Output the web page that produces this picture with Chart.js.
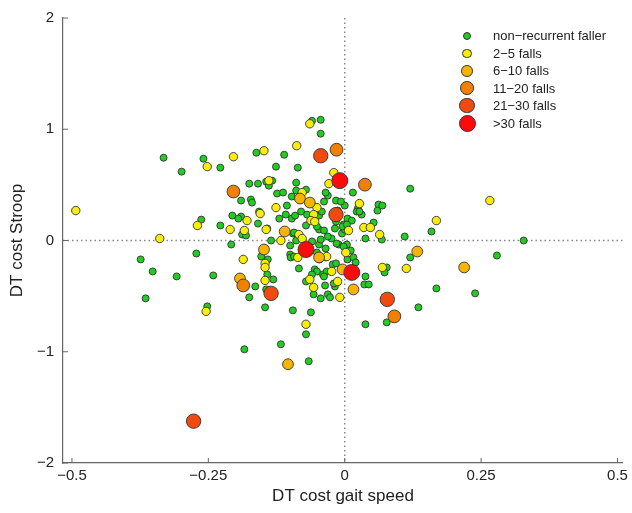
<!DOCTYPE html>
<html>
<head>
<meta charset="utf-8">
<script src="https://cdn.jsdelivr.net/npm/chart.js@4.4.1/dist/chart.umd.min.js"></script>
<style>
  body { margin: 0; background: #fff; }
  #wrap { position: relative; width: 632px; height: 513px; }
  #legend { position: absolute; left: 455px; top: 27px; font-family: "Liberation Sans", Arial, sans-serif; font-size: 13px; color: #222; }
  #legend .row { position: relative; height: 17.5px; line-height: 17.5px; padding-left: 38px; white-space: nowrap; }
  #legend .dot { position: absolute; border-radius: 50%; border: 1px solid #333; box-sizing: border-box; }
</style>
</head>
<body>
<div id="wrap">
  <canvas id="fallsChart" width="632" height="513"></canvas>
  <div id="legend"></div>
</div>
<script>
// fall groups, legend order
const groupLabels = ['non\u2212recurrent faller', '2\u22125 falls', '6\u221210 falls', '11\u221220 falls', '21\u221230 falls', '>30 falls'];
const groupColors = ['#22cc22', '#f7ec0a', '#f5b400', '#f08000', '#f04a10', '#ff0a0a'];
const groupRadius = [3.5, 4.2, 5.4, 6.4, 7.2, 8];

const xTicks = [-0.5, -0.25, 0, 0.25, 0.5];
const yTicks = [-2, -1, 0, 1, 2];

// [DT cost gait speed, DT cost Stroop]
const nonRecurrent = [
  [-0.332, 0.744], [-0.299, 0.619], [-0.374, -0.170], [-0.352, -0.278], [-0.308, -0.323], [-0.365, -0.520],
  [-0.272, -0.117], [-0.259, 0.735], [-0.228, 0.655], [-0.263, 0.188], [-0.228, 0.135], [-0.208, -0.036],
  [-0.241, -0.314], [-0.206, 0.224], [-0.190, 0.215], [-0.190, 0.359], [-0.172, 0.368], [-0.170, 0.341],
  [-0.175, 0.511], [-0.159, 0.511], [-0.162, 0.789], [-0.126, 0.664], [-0.111, 0.771], [-0.086, 0.655],
  [-0.089, 0.520], [-0.124, 0.422], [-0.113, 0.431], [-0.106, 0.314], [-0.157, 0.260], [-0.120, 0.197],
  [-0.097, 0.197], [-0.108, 0.233], [-0.195, 0.197], [-0.159, 0.152], [-0.188, 0.054], [-0.181, 0.045],
  [-0.135, 0.000], [-0.100, -0.045], [-0.095, 0.063], [-0.100, -0.126], [-0.099, -0.152], [-0.084, -0.251],
  [-0.055, -0.260], [-0.044, 1.085], [-0.060, 1.076], [-0.044, 0.960], [-0.097, 0.395], [-0.089, 0.449],
  [-0.071, 0.457], [-0.038, 0.350], [-0.047, 0.224], [-0.031, 0.404], [-0.016, 0.359], [-0.144, 0.529],
  [-0.133, 0.538], [-0.080, 0.260], [-0.069, 0.233], [-0.047, 0.099], [-0.060, -0.009], [-0.047, -0.036],
  [-0.035, -0.072], [-0.024, 0.018], [-0.046, -0.170], [-0.040, -0.305], [-0.071, -0.368], [-0.051, -0.278],
  [-0.022, -0.215], [-0.018, -0.413], [-0.031, -0.484], [-0.057, -0.484], [-0.044, -0.520], [-0.153, -0.144],
  [-0.142, -0.305], [-0.144, -0.440], [-0.164, -0.413], [-0.175, -0.511], [-0.131, -0.350], [-0.139, 0.493],
  [-0.035, 0.431], [-0.042, 0.260], [-0.091, 0.224], [-0.142, 0.108], [-0.051, 0.126], [-0.038, 0.090],
  [-0.071, 0.135], [-0.093, 0.072], [-0.031, 0.036], [-0.044, 0.009], [-0.018, 0.108], [-0.005, 0.063],
  [0.000, 0.099], [-0.016, 0.170], [-0.089, 0.000], [0.015, 0.431], [0.120, 0.466], [0.062, 0.323],
  [0.069, 0.314], [0.060, 0.269], [0.024, 0.287], [0.031, 0.233], [0.022, 0.260], [0.000, 0.314],
  [-0.007, 0.350], [0.005, 0.197], [0.013, 0.179], [-0.002, 0.144], [0.053, 0.161], [0.159, 0.081],
  [0.110, 0.036], [0.068, 0.009], [0.038, 0.018], [0.328, 0.000], [0.279, -0.135], [0.120, -0.152],
  [0.077, -0.242], [0.073, -0.287], [0.038, -0.323], [0.036, -0.395], [0.044, -0.395], [0.168, -0.431],
  [0.239, -0.475], [0.135, -0.601], [0.077, -0.736], [0.038, -0.753], [-0.062, -0.646], [-0.095, -0.628],
  [-0.071, -0.843], [-0.013, 0.269], [0.027, 0.260], [-0.004, 0.126], [0.004, 0.144], [-0.011, -0.036],
  [0.004, -0.036], [0.011, -0.090], [0.005, -0.170], [0.016, -0.152], [-0.016, -0.206], [-0.033, -0.278],
  [-0.038, -0.323], [-0.020, -0.386], [-0.060, -0.305], [-0.093, -0.144], [-0.027, -0.511], [-0.036, -0.404],
  [0.020, -0.197], [-0.002, -0.054], [-0.141, -0.170], [-0.146, -0.601], [-0.117, -0.933], [-0.184, -0.978],
  [-0.066, -1.085], [-0.252, -0.592], [-0.064, -0.090], [-0.051, -0.108], [-0.015, -0.027], [-0.035, -0.152]
];
const falls2to5 = [
  [-0.493, 0.269], [-0.339, 0.018], [-0.270, 0.135], [-0.252, 0.664], [-0.204, 0.753], [-0.148, 0.807],
  [-0.064, 1.049], [-0.088, 0.852], [-0.139, 0.538], [-0.126, 0.296], [-0.155, 0.242], [-0.179, 0.179],
  [-0.210, 0.099], [-0.184, 0.090], [-0.144, 0.099], [-0.117, 0.000], [-0.186, -0.170], [-0.146, -0.206],
  [-0.146, -0.242], [-0.146, -0.359], [-0.057, -0.422], [-0.024, -0.278], [-0.020, 0.610], [-0.029, 0.511],
  [-0.051, 0.296], [-0.057, 0.233], [-0.062, 0.179], [-0.055, 0.170], [-0.078, 0.431], [-0.084, 0.054],
  [-0.078, 0.018], [-0.086, -0.152], [-0.033, -0.144], [-0.064, -0.350], [-0.013, -0.368], [-0.009, -0.511],
  [-0.071, -0.753], [0.002, -0.108], [0.027, 0.332], [0.007, 0.090], [0.035, 0.117], [0.047, 0.117],
  [0.064, 0.054], [0.168, 0.179], [0.266, 0.359], [0.069, -0.242], [0.113, -0.251], [-0.254, -0.637]
];
const falls6to10 = [
  [-0.082, 0.377], [-0.064, 0.341], [-0.110, 0.081], [-0.148, -0.081], [-0.192, -0.341], [-0.047, -0.152],
  [-0.004, -0.260], [0.133, -0.099], [0.219, -0.242], [0.016, -0.440], [-0.104, -1.112]
];
const falls11to20 = [
  [-0.015, 0.816], [0.037, 0.502], [-0.204, 0.440], [-0.186, -0.404], [0.091, -0.682]
];
const falls21to30 = [
  [-0.016, 0.233], [-0.044, 0.762], [-0.135, -0.475], [0.078, -0.529], [-0.277, -1.624]
];
const fallsOver30 = [
  [-0.009, 0.538], [0.013, -0.287], [-0.071, -0.081]
];

const groups = [nonRecurrent, falls2to5, falls6to10, falls11to20, falls21to30, fallsOver30];
const fontFamily = '"Liberation Sans", Arial, Helvetica, sans-serif';

function fmt(v) {
    return String(v).replace('-', '\u2212');
}

// dotted zero lines + inward ticks
const refLines = {
    id: 'refLines',
    beforeDatasetsDraw(chart) {
        const { ctx, chartArea, scales } = chart;
        const x0 = scales.x.getPixelForValue(0);
        const y0 = scales.y.getPixelForValue(0);
        ctx.save();
        ctx.strokeStyle = '#888';
        ctx.lineWidth = 1.5;
        ctx.setLineDash([1.5, 3]);
        ctx.beginPath();
        ctx.moveTo(x0, chartArea.top);
        ctx.lineTo(x0, chartArea.bottom);
        ctx.moveTo(chartArea.left, y0);
        ctx.lineTo(chartArea.right, y0);
        ctx.stroke();
        ctx.restore();
    },
    afterDraw(chart) {
        const { ctx, chartArea, scales } = chart;
        ctx.save();
        ctx.strokeStyle = '#666';
        ctx.lineWidth = 1;
        ctx.beginPath();
        xTicks.forEach(v => {
            const px = scales.x.getPixelForValue(v);
            ctx.moveTo(px, chartArea.bottom);
            ctx.lineTo(px, chartArea.bottom - 5);
        });
        yTicks.forEach(v => {
            const py = scales.y.getPixelForValue(v);
            ctx.moveTo(chartArea.left, py);
            ctx.lineTo(chartArea.left + 5, py);
        });
        ctx.stroke();
        ctx.restore();
    }
};

const datasets = groups.map((pts, i) => ({
    label: groupLabels[i],
    data: pts.map(p => ({ x: p[0], y: p[1] })),
    backgroundColor: groupColors[i],
    borderColor: '#333',
    borderWidth: 0.9,
    pointRadius: groupRadius[i],
    pointHoverRadius: groupRadius[i],
    order: groups.length - i
}));

new Chart(document.getElementById('fallsChart'), {
    type: 'scatter',
    data: { datasets: datasets },
    options: {
        responsive: false,
        animation: false,
        layout: { padding: { top: 16, right: 5, left: 0, bottom: 0 } },
        plugins: { legend: { display: false }, tooltip: { enabled: false } },
        scales: {
            x: {
                type: 'linear',
                min: -0.5164,
                max: 0.51,
                afterBuildTicks: s => { s.ticks = xTicks.map(v => ({ value: v })); },
                afterFit: s => { s.height = 50; },
                ticks: { callback: v => fmt(v), color: '#222', font: { family: fontFamily, size: 15 }, padding: 4, maxRotation: 0, autoSkip: false },
                grid: { display: false, drawTicks: false },
                border: { display: true, color: '#666', width: 1.2 },
                title: { display: true, text: 'DT cost gait speed', color: '#222', font: { family: fontFamily, size: 17 }, padding: { top: 0, bottom: 6 } }
            },
            y: {
                type: 'linear',
                min: -2,
                max: 2,
                afterBuildTicks: s => { s.ticks = yTicks.map(v => ({ value: v })); },
                afterFit: s => { s.width = 63; },
                ticks: { callback: v => fmt(v), color: '#222', font: { family: fontFamily, size: 15 }, padding: 9, autoSkip: false },
                grid: { display: false, drawTicks: false },
                border: { display: true, color: '#666', width: 1.2 },
                title: { display: true, text: 'DT cost Stroop', color: '#222', font: { family: fontFamily, size: 17 }, padding: { top: 7, bottom: 0 } }
            }
        }
    },
    plugins: [refLines]
});

// legend box in the upper right of the plot
const legendEl = document.getElementById('legend');
groupLabels.forEach((lab, i) => {
    const row = document.createElement('div');
    row.className = 'row';
    const d = groupRadius[i] * 2 + 1;
    const dot = document.createElement('span');
    dot.className = 'dot';
    dot.style.width = d + 'px';
    dot.style.height = d + 'px';
    dot.style.left = (12 - d / 2) + 'px';
    dot.style.top = (8.75 - d / 2) + 'px';
    dot.style.background = groupColors[i];
    row.appendChild(dot);
    row.appendChild(document.createTextNode(lab));
    legendEl.appendChild(row);
});
</script>
</body>
</html>
